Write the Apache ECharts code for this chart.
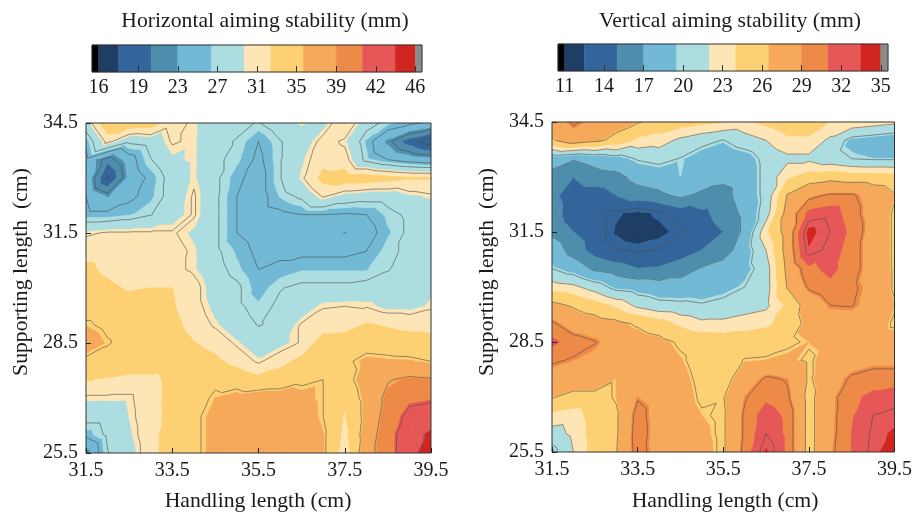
<!DOCTYPE html>
<html>
<head>
<meta charset="utf-8">
<script src="https://cdn.jsdelivr.net/npm/echarts@6/dist/echarts.min.js"></script>
<style>
  html, body { margin: 0; padding: 0; background: #fff; }
  #chart { width: 915px; height: 517px; }
</style>
</head>
<body>
<div id="chart"></div>
<script>
// Grid nodes: handling length (x) and supporting length (y, listed top row first)
const handlingLength = [31.5, 32, 32.5, 33, 33.5, 34, 34.5, 35, 35.5, 36, 36.5, 37, 37.5, 38, 38.5, 39, 39.5];
const supportingLength = [34.5, 34, 33.5, 33, 32.5, 32, 31.5, 31, 30.5, 30, 29.5, 29, 28.5, 28, 27.5, 27, 26.5, 26, 25.5];

// Horizontal aiming stability (mm), one row per supporting length
const horizontalStability = [
  [29, 34, 34, 33.5, 31, 30, 28.5, 28, 27.5, 29, 30, 29, 32, 28.5, 27, 26, 25],
  [26, 31, 28, 28.5, 30.5, 30, 28, 27.5, 25.5, 27.5, 28.5, 31, 30, 26.5, 23, 20, 18],
  [25, 21.5, 24.5, 27.5, 29.5, 30, 28, 27, 25, 27.5, 29.5, 31.5, 31, 27, 25.5, 24.5, 24],
  [25, 18.8, 24, 26, 28.5, 30, 28, 26, 24.5, 27.5, 30, 33, 33.5, 33.5, 33, 32.5, 32.5],
  [25.5, 23.3, 25, 26.3, 28.5, 30.5, 28, 25.5, 24.5, 26.8, 28, 30.5, 29, 28.5, 28.5, 29.5, 30],
  [26, 26, 26.5, 27.5, 28.8, 30.5, 28, 25.5, 24.5, 25, 25.5, 25.5, 25.3, 25.5, 27, 28, 28.5],
  [30, 30.5, 30.5, 30.5, 30.5, 29.5, 28, 25.5, 24.5, 24.5, 24.5, 24.5, 23.4, 24.5, 26.5, 28, 28.5],
  [31.5, 31.5, 31.5, 31, 31, 30, 28, 26.5, 25, 25, 25, 25, 25, 25.5, 27.2, 28, 28.5],
  [32.8, 31.8, 31, 31, 30.8, 30, 28.3, 27, 25.5, 26, 26.6, 26.6, 26.6, 26.6, 27.5, 28.5, 29],
  [33.5, 32.8, 32, 32.3, 32.3, 31, 28.8, 28, 26, 27.5, 28, 28, 28, 28.3, 28.5, 29, 29.5],
  [34, 34, 33.5, 33, 32.5, 31, 29.3, 28, 26.9, 28, 28.5, 30.2, 30.3, 30.2, 29.3, 29.3, 30],
  [35.3, 34.5, 34, 33.5, 33, 31.5, 30, 28.5, 27.5, 28, 30.5, 31, 31, 32.5, 32, 31.5, 31.5],
  [36.5, 35.2, 34, 33.8, 33.5, 32.4, 31.5, 30, 28.5, 29.2, 30.5, 33.5, 34, 34, 33.8, 33.5, 33],
  [34.5, 34, 34, 34, 33.8, 33.5, 32.8, 31.5, 30, 31.5, 33, 34, 34.5, 35.8, 35.6, 35.5, 35],
  [32.5, 32, 31.5, 31.5, 33, 34, 34.5, 34, 33, 33.5, 34.5, 35, 34, 36.5, 38, 38.8, 38.5],
  [30, 30, 30, 31.5, 33, 34, 35.4, 36, 36.5, 36.5, 36, 35, 33, 36, 39, 40.5, 40.8],
  [28.5, 28.5, 29.8, 31.5, 33, 34.5, 36, 37, 37.5, 37, 36.5, 35, 32, 36, 39.5, 42, 42.5],
  [26, 28, 29.5, 31.5, 33.5, 34.5, 36, 37, 37.5, 37.5, 37, 35.5, 31.5, 36.5, 40, 43, 44.5],
  [22.5, 27.5, 29, 31.5, 33.5, 34.5, 36, 37, 37.5, 37.5, 37, 35.5, 31, 37, 40, 43, 45.5]
];

// Vertical aiming stability (mm), one row per supporting length
const verticalStability = [
  [28, 29.5, 28.5, 27.5, 26.5, 25.5, 25, 24.5, 24, 23.5, 24.5, 25.5, 25.5, 24, 23.5, 23, 22.5],
  [26, 28, 27, 25.5, 23.5, 23, 21.5, 20.5, 19.7, 21, 22, 23.5, 23.5, 21.5, 19, 18.5, 18],
  [18, 17.2, 18, 18.8, 20, 20.5, 19.7, 18.5, 17.8, 18.5, 20.5, 21.5, 21.5, 20.5, 19.8, 19.5, 19.5],
  [16.3, 15, 16, 16.3, 17.8, 18.3, 19.5, 18.5, 17.5, 18, 20.5, 23.5, 25, 25.5, 25, 25, 24.8],
  [15.5, 14, 14, 15, 16, 16.5, 17.5, 16.5, 16.3, 18, 20.5, 26.5, 28.5, 29.5, 29.5, 28, 26.5],
  [16, 13.8, 13.5, 12.7, 12, 12.8, 13.8, 14.5, 15.8, 17.5, 21, 27.5, 31.5, 32, 30, 28, 26],
  [16.5, 15, 14, 12.3, 11.5, 12, 13, 14, 15, 17.5, 23.5, 27.5, 34, 32.5, 30.5, 28, 26],
  [18.5, 16, 14.2, 13.3, 13, 13.3, 14, 15, 16, 18.3, 22, 27.5, 33.3, 32, 30, 28, 26],
  [19.8, 18.5, 16.5, 15.8, 15, 15.2, 16, 17.2, 18, 18.8, 21, 27, 30.5, 31.5, 30, 28, 26],
  [23, 22.5, 21, 19, 18.5, 18, 18, 18.3, 18.8, 19.8, 21, 26.5, 29.5, 30.5, 29.5, 28.5, 26],
  [27, 26, 25, 23.5, 21.5, 20.5, 20.3, 20, 20.5, 21, 21.5, 24.5, 27.5, 29.2, 29.3, 28.3, 26.5],
  [29.5, 28, 27.5, 27, 26, 25, 23.5, 22.5, 22.5, 23, 23.5, 25, 27, 28, 28, 27.5, 26],
  [31.5, 30, 29.3, 28, 27.5, 27, 26, 25.5, 25.3, 25.3, 25.5, 26, 26.5, 27, 27.5, 27.5, 27.3],
  [29.5, 29, 28.5, 28.2, 28, 27.5, 26.6, 25.5, 25.5, 26.4, 26.5, 26.8, 26, 27.5, 28, 28.5, 28.5],
  [28, 28, 28, 26.5, 28.5, 28, 27, 25.8, 25.5, 27.5, 29.5, 29, 26, 28, 29.5, 30, 30],
  [26.5, 25.5, 25.5, 26.5, 29, 28, 27.3, 26, 26.2, 29, 30.5, 29.5, 25.5, 28.5, 30.5, 31.5, 32],
  [23.5, 23, 25, 26, 30, 28, 27.5, 26.5, 26, 29.5, 32, 30.5, 25.5, 28.5, 30.8, 32.5, 32.8],
  [21, 22.5, 25, 26, 30.2, 28, 27.8, 26.8, 26, 29.5, 32.5, 30.5, 25.5, 28.5, 31, 32.8, 33.8],
  [19, 22, 25, 26.2, 30, 28.2, 28, 27, 26, 29.8, 33.7, 30.5, 25.5, 28.7, 31, 33, 34.5]
];

// Filled contour levels (band edges) and the contour line levels
const horizontalLevels = [16, 17.9, 21, 23.5, 26.7, 29.8, 32.3, 35.4, 38.5, 41, 44.1, 46];
const verticalLevels = [11, 12.5, 15, 17, 19.5, 22, 24, 26.5, 29, 31, 33.5, 35];
const horizontalLineLevels = [19.2, 22.5, 25.5, 27.6, 30.3, 35, 38.2, 41.2, 44];
const verticalLineLevels = [13.2, 17, 19.8, 22, 26.3, 29.2, 32.5];

// Axis ticks
const handlingTicks = [31.5, 33.5, 35.5, 37.5, 39.5];
const supportingTicks = [25.5, 28.5, 31.5, 34.5];

// Colour bar ticks and labels
const horizontalBarTicks = [16, 19.75, 23.5, 27.25, 31, 34.75, 38.5, 42.25, 46];
const horizontalBarLabels = ['16', '19', '23', '27', '31', '35', '39', '42', '46'];
const verticalBarTicks = [11, 14, 17, 20, 23, 26, 29, 32, 35];
const verticalBarLabels = ['11', '14', '17', '20', '23', '26', '29', '32', '35'];
const horizontalBarRange = [15.375, 46.63];
const verticalBarRange = [10.5, 35.55];

const bandColors = ['#1f3e66', '#33659a', '#4e8dab', '#71b9d5', '#acdde0', '#fde5b6',
                    '#fdd173', '#f6a95a', '#ee8a47', '#e65757', '#d1251f'];
const belowColor = '#000000';
const aboveColor = '#8c8c8c';
const FONT = "'Liberation Serif', 'Times New Roman', serif";
const TEXT = '#1a1a1a';

// Clip a polygon (vertices [x, y, value]) against value >= level or value <= level
function clipPoly(poly, level, keepAbove) {
  const out = [];
  for (let i = 0; i < poly.length; i++) {
    const p = poly[i], q = poly[(i + 1) % poly.length];
    const pin = keepAbove ? p[2] >= level : p[2] <= level;
    const qin = keepAbove ? q[2] >= level : q[2] <= level;
    if (pin) out.push(p);
    if (pin !== qin) {
      const t = (level - p[2]) / (q[2] - p[2]);
      out.push([p[0] + t * (q[0] - p[0]), p[1] + t * (q[1] - p[1]), level]);
    }
  }
  return out;
}

function polyArea(pts) {
  let a = 0;
  for (let i = 0; i < pts.length; i++) {
    const p = pts[i], q = pts[(i + 1) % pts.length];
    a += p[0] * q[1] - q[0] * p[1];
  }
  return Math.abs(a / 2);
}

function triangles(grid) {
  const tris = [];
  for (let j = 0; j < supportingLength.length - 1; j++) {
    for (let k = 0; k < handlingLength.length - 1; k++) {
      const A = [handlingLength[k], supportingLength[j], grid[j][k]];
      const B = [handlingLength[k + 1], supportingLength[j], grid[j][k + 1]];
      const C = [handlingLength[k + 1], supportingLength[j + 1], grid[j + 1][k + 1]];
      const D = [handlingLength[k], supportingLength[j + 1], grid[j + 1][k]];
      tris.push([A, B, D], [B, C, D]);
    }
  }
  return tris;
}

function buildBands(grid, levels) {
  const polys = [];
  const nb = levels.length - 1;
  triangles(grid).forEach(tri => {
    for (let b = 0; b < nb; b++) {
      let poly = tri;
      if (b > 0) poly = clipPoly(poly, levels[b], true);
      if (poly.length < 3) continue;
      if (b < nb - 1) poly = clipPoly(poly, levels[b + 1], false);
      if (poly.length < 3) continue;
      const pts = poly.map(p => [p[0], p[1]]);
      if (polyArea(pts) < 1e-7) continue;
      polys.push({ band: b, pts: pts });
    }
  });
  return polys;
}

function buildLines(grid, lineLevels) {
  const segs = [];
  triangles(grid).forEach(tri => {
    lineLevels.forEach(L => {
      const pts = [];
      [[0, 1], [1, 2], [2, 0]].forEach(e => {
        const p = tri[e[0]], q = tri[e[1]];
        if ((p[2] >= L) !== (q[2] >= L)) {
          const t = (L - p[2]) / (q[2] - p[2]);
          pts.push([p[0] + t * (q[0] - p[0]), p[1] + t * (q[1] - p[1])]);
        }
      });
      if (pts.length === 2) segs.push([pts[0][0], pts[0][1], pts[1][0], pts[1][1]]);
    });
  });
  return segs;
}

function fillSeries(polys, axisIndex) {
  return {
    type: 'custom', xAxisIndex: axisIndex, yAxisIndex: axisIndex,
    silent: true, animation: false, z: 2, clip: true,
    data: polys.map((p, i) => [p.pts[0][0], p.pts[0][1], i]),
    encode: { x: 0, y: 1 },
    renderItem: (params, api) => {
      const p = polys[api.value(2)];
      const c = bandColors[p.band];
      return {
        type: 'polygon',
        shape: { points: p.pts.map(pt => api.coord(pt)) },
        style: { fill: c, stroke: c, lineWidth: 1.2, lineJoin: 'round' }
      };
    }
  };
}

function lineSeries(segs, axisIndex) {
  return {
    type: 'custom', xAxisIndex: axisIndex, yAxisIndex: axisIndex,
    silent: true, animation: false, z: 3,
    data: segs,
    encode: { x: [0, 2], y: [1, 3] },
    renderItem: (params, api) => {
      const a = api.coord([api.value(0), api.value(1)]);
      const b = api.coord([api.value(2), api.value(3)]);
      return {
        type: 'line',
        shape: { x1: a[0], y1: a[1], x2: b[0], y2: b[1] },
        style: { stroke: '#4a4a4a', lineWidth: 0.7, opacity: 0.85 }
      };
    }
  };
}

function frameSeries(axisIndex, xMin) {
  return {
    type: 'custom', xAxisIndex: axisIndex, yAxisIndex: axisIndex,
    silent: true, animation: false, z: 6,
    data: [[xMin, 0]],
    encode: { x: 0, y: 1 },
    renderItem: (params) => {
      const cs = params.coordSys;
      return {
        type: 'rect',
        shape: { x: cs.x, y: cs.y, width: cs.width, height: cs.height },
        style: { fill: null, stroke: '#333', lineWidth: 1 }
      };
    }
  };
}

function barSeries(levels, range, axisIndex) {
  const pieces = [[range[0], levels[0], belowColor]];
  for (let b = 0; b < levels.length - 1; b++) pieces.push([levels[b], levels[b + 1], bandColors[b]]);
  pieces.push([levels[levels.length - 1], range[1], aboveColor]);
  return {
    type: 'custom', xAxisIndex: axisIndex, yAxisIndex: axisIndex,
    silent: true, animation: false, z: 2,
    data: pieces.map((p, i) => [p[0], p[1], i]),
    encode: { x: [0, 1] },
    renderItem: (params, api) => {
      const p = pieces[api.value(2)];
      const a = api.coord([p[0], 1]);
      const b = api.coord([p[1], 0]);
      return {
        type: 'rect',
        shape: { x: a[0], y: a[1], width: b[0] - a[0], height: b[1] - a[1] },
        style: { fill: p[2], stroke: p[2], lineWidth: 0.5 }
      };
    }
  };
}

function plotXAxis(gridIndex) {
  return {
    type: 'value', gridIndex: gridIndex, min: 31.5, max: 39.5, z: 10,
    axisLine: { show: false },
    axisTick: { show: true, inside: true, length: 5, customValues: handlingTicks, lineStyle: { color: '#222', width: 1 } },
    axisLabel: { customValues: handlingTicks, formatter: v => v.toFixed(1), margin: 8,
                 fontSize: 20, fontFamily: FONT, color: TEXT, showMinLabel: true, showMaxLabel: true },
    splitLine: { show: false }
  };
}

function plotYAxis(gridIndex) {
  return {
    type: 'value', gridIndex: gridIndex, min: 25.5, max: 34.5, z: 10,
    axisLine: { show: false },
    axisTick: { show: true, inside: true, length: 5, customValues: supportingTicks, lineStyle: { color: '#222', width: 1 } },
    axisLabel: { customValues: supportingTicks, formatter: v => v.toFixed(1), margin: 8,
                 fontSize: 20, fontFamily: FONT, color: TEXT, showMinLabel: true, showMaxLabel: true },
    splitLine: { show: false }
  };
}

function barXAxis(gridIndex, range, ticks, labels) {
  return {
    type: 'value', gridIndex: gridIndex, min: range[0], max: range[1], z: 10,
    axisLine: { show: false },
    axisTick: { show: true, inside: true, length: 6, customValues: ticks, lineStyle: { color: '#333', width: 1 } },
    axisLabel: { customValues: ticks, margin: 6, fontSize: 20, fontFamily: FONT, color: TEXT,
                 showMinLabel: true, showMaxLabel: true,
                 formatter: v => {
                   let best = 0;
                   ticks.forEach((t, i) => { if (Math.abs(t - v) < Math.abs(ticks[best] - v)) best = i; });
                   return labels[best];
                 } },
    splitLine: { show: false }
  };
}

function barYAxis(gridIndex) {
  return { type: 'value', gridIndex: gridIndex, min: 0, max: 1, show: false };
}

function text(str, x, y, rotation) {
  return {
    type: 'text', x: x, y: y, rotation: rotation || 0, silent: true,
    style: { text: str, fontSize: 21.7, fontFamily: FONT, fill: TEXT, textAlign: 'center', textVerticalAlign: 'middle' }
  };
}

const hBands = buildBands(horizontalStability, horizontalLevels);
const vBands = buildBands(verticalStability, verticalLevels);
const hLines = buildLines(horizontalStability, horizontalLineLevels);
const vLines = buildLines(verticalStability, verticalLineLevels);

const chart = echarts.init(document.getElementById('chart'), null, { renderer: 'canvas', width: 915, height: 517 });

chart.setOption({
  backgroundColor: '#ffffff',
  animation: false,
  grid: [
    { left: 86, top: 123, width: 345, height: 330 },
    { left: 552, top: 122, width: 344, height: 330 },
    { left: 92, top: 45, width: 330, height: 27 },
    { left: 558, top: 44, width: 330, height: 27 }
  ],
  xAxis: [
    plotXAxis(0), plotXAxis(1),
    barXAxis(2, horizontalBarRange, horizontalBarTicks, horizontalBarLabels),
    barXAxis(3, verticalBarRange, verticalBarTicks, verticalBarLabels)
  ],
  yAxis: [plotYAxis(0), plotYAxis(1), barYAxis(2), barYAxis(3)],
  series: [
    fillSeries(hBands, 0), lineSeries(hLines, 0), frameSeries(0, 31.5),
    fillSeries(vBands, 1), lineSeries(vLines, 1), frameSeries(1, 31.5),
    barSeries(horizontalLevels, horizontalBarRange, 2), frameSeries(2, horizontalBarRange[0]),
    barSeries(verticalLevels, verticalBarRange, 3), frameSeries(3, verticalBarRange[0])
  ],
  graphic: [
    text('Horizontal aiming stability (mm)', 265, 21),
    text('Vertical aiming stability (mm)', 730, 21),
    text('Handling length (cm)', 258, 501),
    text('Handling length (cm)', 725, 501),
    text('Supporting length  (cm)', 21, 272, Math.PI / 2),
    text('Supporting length  (cm)', 487, 272, Math.PI / 2)
  ]
});
</script>
</body>
</html>
